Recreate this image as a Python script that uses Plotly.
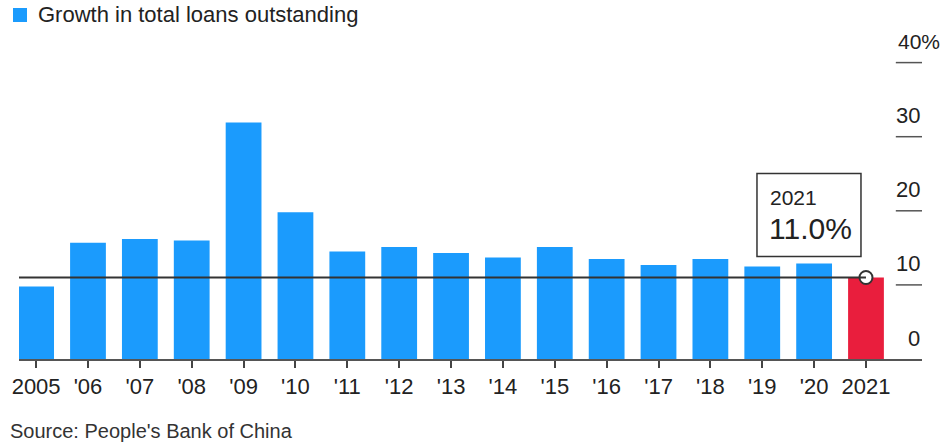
import plotly.graph_objects as go

years = list(range(2005, 2022))
tick_labels = ["2005", "'06", "'07", "'08", "'09", "'10", "'11", "'12", "'13",
               "'14", "'15", "'16", "'17", "'18", "'19", "'20", "2021"]
growth = [9.8, 15.7, 16.2, 16.0, 31.9, 19.8, 14.5, 15.1, 14.3,
          13.7, 15.1, 13.5, 12.7, 13.5, 12.5, 12.9, 11.0]
y_ticks = [0, 10, 20, 30, 40]
y_tick_text = ["0", "10", "20", "30", "40%"]

BLUE = "#1b9bfd"
RED = "#e91e3d"
DARK = "#333333"
FONT = "Liberation Sans, Arial, Helvetica, sans-serif"

x = list(range(len(years)))
colors = [BLUE] * (len(years) - 1) + [RED]
last_x = x[-1]
last_v = growth[-1]

x_range = [-0.33, 17.08]
y_range = [0, 43.05]

fig = go.Figure()
fig.add_trace(go.Bar(x=x, y=growth, marker=dict(color=colors, line=dict(width=0)),
                     width=0.69, showlegend=False, hoverinfo="skip"))
fig.add_trace(go.Scatter(x=[last_x], y=[last_v], mode="markers",
                         marker=dict(size=13, color="white", line=dict(color=DARK, width=2)),
                         showlegend=False, hoverinfo="skip"))

shapes = []
# reference line at latest value
shapes.append(dict(type="line", xref="x", yref="y", x0=x_range[0], x1=last_x,
                   y0=last_v, y1=last_v, line=dict(color=DARK, width=2), layer="above"))
# y tick marks on right side
for v in y_ticks[1:]:
    shapes.append(dict(type="line", xref="paper", yref="y", x0=0.971, x1=1.0,
                       y0=v, y1=v, line=dict(color="#555555", width=1.5)))
# legend square
shapes.append(dict(type="rect", xref="paper", yref="paper",
                   x0=(11 - 17) / 905, x1=(25 - 17) / 905,
                   y0=(359 - 22) / 319, y1=(359 - 8) / 319,
                   fillcolor=BLUE, line=dict(width=0)))
# callout box anchored to latest value (pixel offsets)
shapes.append(dict(type="rect", xref="x", yref="y",
                   xsizemode="pixel", ysizemode="pixel",
                   xanchor=last_x, yanchor=last_v,
                   x0=-109, x1=-5, y0=21, y1=104,
                   fillcolor="white", line=dict(color=DARK, width=1.5), layer="above"))

annotations = []
for v, t in zip(y_ticks, y_tick_text):
    if t.endswith("%"):
        annotations.append(dict(xref="paper", yref="y", x=(896 - 17) / 905, y=v,
                                xanchor="left", yanchor="middle", yshift=21,
                                text=t, showarrow=False,
                                font=dict(family=FONT, size=21, color="#222222")))
    else:
        annotations.append(dict(xref="paper", yref="y", x=1.0, y=v,
                                xanchor="right", yanchor="middle", yshift=21,
                                text=t, showarrow=False,
                                font=dict(family=FONT, size=22, color="#222222")))

annotations.append(dict(xref="paper", yref="paper", x=(34 - 17) / 905, y=(359 - 15) / 319,
                        xanchor="left", yanchor="middle",
                        text="Growth in total loans outstanding", showarrow=False,
                        font=dict(family=FONT, size=22, color="#222222")))
annotations.append(dict(xref="paper", yref="paper", x=(6 - 17) / 905, y=(359 - 431) / 319,
                        xanchor="left", yanchor="middle",
                        text="Source: People's Bank of China", showarrow=False,
                        font=dict(family=FONT, size=20, color="#333333")))
annotations.append(dict(xref="x", yref="y", x=last_x, y=last_v,
                        xanchor="left", yanchor="middle", xshift=-98, yshift=80,
                        text="2021", showarrow=False,
                        font=dict(family=FONT, size=21, color="#222222")))
annotations.append(dict(xref="x", yref="y", x=last_x, y=last_v,
                        xanchor="left", yanchor="middle", xshift=-99, yshift=49,
                        text="%.1f%%" % last_v, showarrow=False,
                        font=dict(family=FONT, size=30, color="#222222")))

fig.update_layout(
    width=942, height=445,
    margin=dict(l=17, r=20, t=40, b=86),
    paper_bgcolor="white", plot_bgcolor="white",
    bargap=0.31,
    shapes=shapes, annotations=annotations,
    xaxis=dict(range=x_range, tickmode="array", tickvals=x, ticktext=tick_labels,
               showgrid=False, zeroline=False, showline=True, linecolor="#555555",
               linewidth=1.5, ticks="outside", ticklen=7, tickwidth=1.5,
               tickcolor="#444444",
               tickfont=dict(family=FONT, size=22, color="#222222"), fixedrange=True),
    yaxis=dict(range=y_range, showgrid=False, zeroline=False, showticklabels=False,
               showline=False, fixedrange=True),
    font=dict(family=FONT),
)

fig.write_html("out.html")
